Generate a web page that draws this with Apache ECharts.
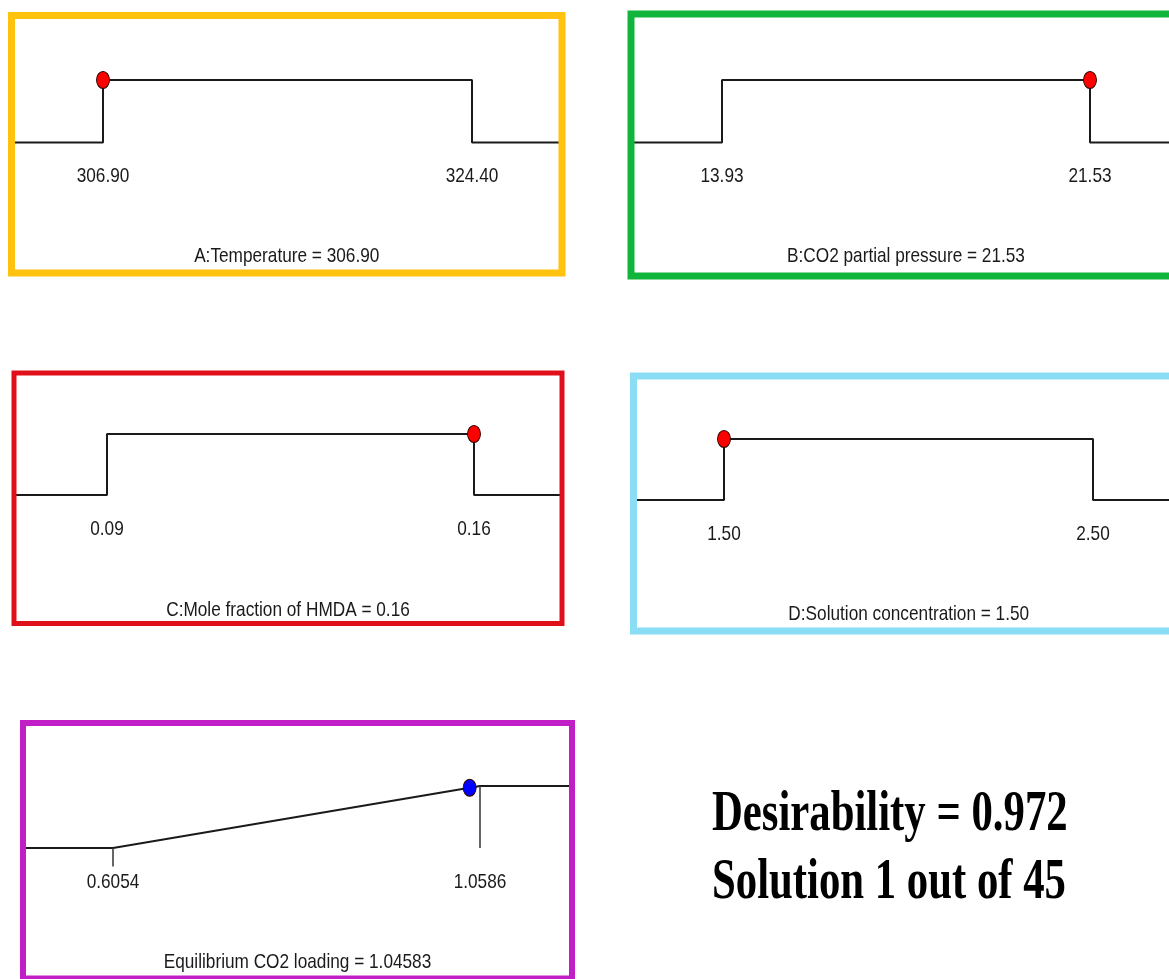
<!DOCTYPE html>
<html>
<head>
<meta charset="utf-8">
<script src="https://cdn.jsdelivr.net/npm/echarts@6/dist/echarts.min.js"></script>
<style>
  html, body { margin: 0; padding: 0; background: #ffffff; }
  #chart { width: 1169px; height: 979px; }
</style>
</head>
<body>
<div id="chart"></div>
<script>
// ---- Optimization ramps: factor limits, chosen solution, response goal ----
const panelNames = ['A:Temperature', 'B:CO2 partial pressure', 'C:Mole fraction of HMDA', 'D:Solution concentration', 'Equilibrium CO2 loading'];
const lowLimits = [306.90, 13.93, 0.09, 1.50, 0.6054];
const highLimits = [324.40, 21.53, 0.16, 2.50, 1.0586];
const limitDecimals = [2, 2, 2, 2, 4];
const solutionValues = [306.90, 21.53, 0.16, 1.50, 1.04583];
const valueDecimals = [2, 2, 2, 2, 5];
const goalKinds = ['range', 'range', 'range', 'range', 'maximize'];
// limit markers of the response ramp: [x, from d, to d]
const responseLimitMarks = [[0.6054, 0, -0.3], [1.0586, 1, 0]];
const desirability = 0.972;
const solutionNumber = 1;
const solutionCount = 45;

// ---- Layout (pixels): frame box, where the limits and d=0 / d=1 levels sit ----
const canvasWidth = 1169;
const layout = [
  { left: 11.5, top: 15.5, right: 562, bottom: 273, xLo: 103, xHi: 472, y0: 142.5, y1: 80, frame: '#FFC20E', frameWidth: 7, titleY: 256, labelDy: 34, dot: '#FF0000' },
  { left: 631, top: 14, right: 1181, bottom: 276, xLo: 722, xHi: 1090, y0: 142.5, y1: 80, frame: '#12B53C', frameWidth: 7, titleY: 256, labelDy: 34, dot: '#FF0000' },
  { left: 14, top: 373, right: 562, bottom: 623.5, xLo: 107, xHi: 474, y0: 495, y1: 434, frame: '#E0101A', frameWidth: 5, titleY: 610, labelDy: 34, dot: '#FF0000' },
  { left: 633.5, top: 376, right: 1184, bottom: 631, xLo: 724, xHi: 1093, y0: 500, y1: 439, frame: '#89DDF5', frameWidth: 7, titleY: 614, labelDy: 34, dot: '#FF0000' },
  { left: 23, top: 723, right: 572, bottom: 978.5, xLo: 113, xHi: 480, y0: 848, y1: 786, frame: '#C21EC8', frameWidth: 6, titleY: 962, labelDy: 34, dot: '#0000FF' }
];

// Arial-style lettering, squeezed horizontally
const sansFont = '21px "Liberation Sans", Arial, sans-serif';
const sansSqueeze = 0.82;
const inkColor = '#1a1a1a';

function desirabilityAt(kind, lo, hi, x) {
  if (kind === 'range') return (x >= lo && x <= hi) ? 1 : 0;
  return Math.min(1, Math.max(0, (x - lo) / (hi - lo)));
}

const grids = [], xAxes = [], yAxes = [], series = [], graphics = [];

panelNames.forEach((name, i) => {
  const L = layout[i];
  const lo = lowLimits[i], hi = highLimits[i];
  const kind = goalKinds[i];
  // plotting area stops at the canvas edge; the frame may run past it
  const plotRight = Math.min(L.right, canvasWidth);
  const pxPerX = (L.xHi - L.xLo) / (hi - lo);
  const xMin = lo - (L.xLo - L.left) / pxPerX;
  const xMax = lo + (plotRight - L.xLo) / pxPerX;
  const pxPerY = L.y0 - L.y1;
  const yMax = 1 + (L.y1 - L.top) / pxPerY;
  const yMin = -(L.bottom - L.y0) / pxPerY;

  grids.push({ left: L.left, top: L.top, width: plotRight - L.left, height: L.bottom - L.top, containLabel: false });
  xAxes.push({ type: 'value', gridIndex: i, min: xMin, max: xMax, show: false });
  yAxes.push({ type: 'value', gridIndex: i, min: yMin, max: yMax, show: false });

  // desirability ramp
  const curve = kind === 'range'
    ? [[xMin, 0], [lo, 0], [lo, 1], [hi, 1], [hi, 0], [xMax, 0]]
    : [[xMin, 0], [lo, 0], [hi, 1], [xMax, 1]];
  series.push({
    type: 'line', xAxisIndex: i, yAxisIndex: i, data: curve,
    symbol: 'none', lineStyle: { color: inkColor, width: 2 }, z: 3, silent: true
  });

  if (kind !== 'range') {
    responseLimitMarks.forEach(m => {
      series.push({
        type: 'line', xAxisIndex: i, yAxisIndex: i, data: [[m[0], m[1]], [m[0], m[2]]],
        symbol: 'none', lineStyle: { color: '#333', width: 1.5 }, z: 3, silent: true
      });
    });
  }

  // limit value labels, placed through the panel's scales
  series.push({
    type: 'custom', xAxisIndex: i, yAxisIndex: i,
    data: [[lo, 0], [hi, 0]], silent: true, z: 4,
    renderItem: (params, api) => {
      const v = api.value(0);
      const pt = api.coord([v, api.value(1)]);
      return {
        type: 'text', x: pt[0], y: pt[1] + L.labelDy, scaleX: sansSqueeze,
        style: { text: v.toFixed(limitDecimals[i]), font: sansFont, fill: inkColor, align: 'center', verticalAlign: 'middle' }
      };
    }
  });

  // current solution point
  const sol = solutionValues[i];
  series.push({
    type: 'scatter', xAxisIndex: i, yAxisIndex: i,
    data: [[sol, desirabilityAt(kind, lo, hi, sol)]],
    symbol: 'circle', symbolSize: [13, 17],
    itemStyle: { color: L.dot, borderColor: '#300000', borderWidth: 1, opacity: 1 },
    z: 5, silent: true
  });

  // frame and caption
  graphics.push({
    type: 'rect', z: 100, silent: true,
    shape: { x: L.left, y: L.top, width: L.right - L.left, height: L.bottom - L.top },
    style: { fill: 'none', stroke: L.frame, lineWidth: L.frameWidth }
  });
  graphics.push({
    type: 'text', z: 100, silent: true,
    x: (L.left + L.right) / 2, y: L.titleY, scaleX: sansSqueeze,
    style: {
      text: name + ' = ' + sol.toFixed(valueDecimals[i]),
      font: sansFont, fill: inkColor, align: 'center', verticalAlign: 'middle'
    }
  });
});

// overall result
const serifBold = 'bold 57px "Liberation Serif", "Times New Roman", serif';
graphics.push({
  type: 'text', z: 100, silent: true, x: 712, y: 815, scaleX: 0.75,
  style: { text: 'Desirability = ' + desirability.toFixed(3), font: serifBold, fill: '#000', align: 'left', verticalAlign: 'middle' }
});
graphics.push({
  type: 'text', z: 100, silent: true, x: 712, y: 883, scaleX: 0.75,
  style: { text: 'Solution ' + solutionNumber + ' out of ' + solutionCount, font: serifBold, fill: '#000', align: 'left', verticalAlign: 'middle' }
});

const chart = echarts.init(document.getElementById('chart'), null, { renderer: 'canvas' });
chart.setOption({
  backgroundColor: '#ffffff',
  animation: false,
  grid: grids,
  xAxis: xAxes,
  yAxis: yAxes,
  series: series,
  graphic: graphics
});
</script>
</body>
</html>
